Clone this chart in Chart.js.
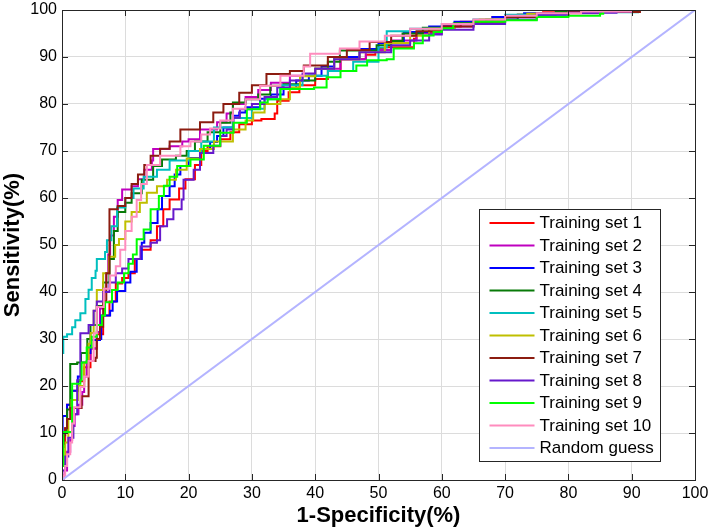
<!DOCTYPE html>
<html>
<head>
<meta charset="utf-8">
<script src="https://cdn.jsdelivr.net/npm/chart.js@4.4.1/dist/chart.umd.min.js"></script>
<style>
  html, body { margin: 0; padding: 0; background: #fff; }
  #wrap { width: 712px; height: 530px; }
</style>
</head>
<body>
<div id="wrap"><canvas id="roc" width="712" height="530"></canvas></div>
<script>
/* ===== ROC curves, 10 training sets ===== */

const axisTicks = [0, 10, 20, 30, 40, 50, 60, 70, 80, 90, 100];
const setLabels = ['Training set 1', 'Training set 2', 'Training set 3', 'Training set 4', 'Training set 5',
  'Training set 6', 'Training set 7', 'Training set 8', 'Training set 9', 'Training set 10', 'Random guess'];
const setColors = ['#ff0000', '#bf00bf', '#0000ff', '#087a08', '#00bfbf',
  '#bfbf00', '#8c1c10', '#6619cc', '#00ff00', '#ff8cbe', '#b4b4ff'];

// [1-specificity, sensitivity] at each step (%)
const set1 = [[0,0],[0,8],[0.5,11],[0.8,16],[1.5,19],[2.5,21],[3.5,24],[4.5,28],[5.5,31],[6.5,35],[7.5,38],[8.5,41.8],
  [9.5,43],[10.5,44],[11.5,47],[12.5,49],[14,51],[15,54],[16,57.6],[17,59.7],[18.5,62],[19.5,64],[21,67],[22,70],
  [23,71],[25,72.5],[26.6,74],[28,75.7],[30,76.5],[31.5,76.8],[33.6,78],[34,80.7],[35.8,82.5],[37.5,84],[40,85.3],
  [42,87],[44,89.5],[48,90.5],[49.5,91.7],[51,92.1],[55.6,93.9],[56,95.3],[60,96.5],[63,97.5],[68,98.5],[72,99],
  [76,99.5],[85,100],[100,100]];
const set2 = [[0,0],[0.3,1],[0.4,2],[0.8,6],[1.3,8.5],[1.6,11.5],[2,14],[2.6,16],[3.2,18.7],[3.5,22],[3.9,25.3],
  [4.5,28],[5.5,31.5],[6,36.5],[6.6,40.7],[7,44],[7.3,48],[7.6,52],[8.2,56],[8.8,59.6],[9.5,61.8],[11,62.5],[12,64],
  [13,66],[14.2,68],[14.4,70.4],[17,71],[19,72],[20,72.5],[21.8,74.6],[24.5,76.1],[26,78],[27,80],[29,81.5],[31,83],
  [33,84.5],[36,86],[40,87.5],[44,89.5],[48,91.5],[52,93.5],[56,95],[60,96.5],[65,97.5],[70,98.5],[75,99.3],
  [85,100],[100,100]];
const set3 = [[0,0],[0,5],[0.1,13.6],[0.8,16],[1.5,19],[2.5,22],[3,25],[4,27],[4.5,29.8],[6,30],[6.2,35],[7.6,36],
  [8,38],[8.7,40.2],[10,42],[10.8,44.3],[11.8,47],[12.6,50.5],[13,52.6],[14,54.7],[15.1,57.6],[15.8,60.4],[17,62.5],
  [17.8,65],[18.7,66.8],[20,68.5],[21.8,70.4],[23.4,71.9],[24.5,73.2],[25.5,75],[27,77.5],[28,78.2],[29,79.3],
  [31.3,81.1],[33,82],[35,83.2],[37,85],[39,86],[41,88],[43,90],[47,91.7],[50,93],[54,95.3],[58,96.5],[62,97.5],
  [68,98.5],[73,99.3],[80,99.6],[88,100],[100,100]];
const set4 = [[0,0],[0,7],[0.3,10],[0.8,15],[1.3,17.6],[1.3,24.7],[2.4,25],[3,27],[4,30],[4.5,33],[5.5,37],[6.5,42],
  [7.5,47],[8.2,53],[8.8,57],[10,59],[11,61],[12.6,63.9],[14.4,66.8],[15.8,68.2],[18,69],[19.7,70],[21,72],[23,74],
  [25,76],[26.6,78.2],[27,80.3],[29,81],[31,82],[32.9,83.9],[35,84.2],[37.6,85],[40,87.5],[42,89],[43.9,91.4],
  [49.7,92.5],[52,93.4],[53.8,95],[57,96.2],[62,97.2],[67,98],[72,99],[78,99.6],[85,100],[100,100]];
const set5 = [[0,0],[0,27],[0.2,30.5],[0.8,31],[1.6,32.5],[2.1,34],[2.9,35.5],[3.7,38.5],[4.2,40.5],[4.7,43],
  [5.3,44.5],[5.5,47],[6.8,48.5],[7.1,51],[7.8,54],[8.7,58],[10,60],[11.3,62],[12.9,64.5],[15,66],[17,68],[20,70],
  [22,72],[24,75],[27,77],[30,79],[32,81],[34.5,84],[38,86],[42,87],[46,89],[50,92],[51.3,95.5],[55,96],[60,97],
  [65,98],[70,99],[80,99.5],[91,100],[100,100]];
const set6 = [[0,0],[0,3],[0.5,8],[1,13],[1.5,17],[2.5,20],[3.5,25],[4.2,29],[4.5,31.3],[5,36],[5.5,40.4],[6.5,44],
  [7.4,47.5],[8.4,50],[9,51.3],[10,55],[11,57],[12.3,59],[13.4,61.1],[15,62.5],[16.6,63.9],[18,66],[19.7,68.4],
  [21.8,70.4],[24,72],[27,74.6],[29,76.5],[30.2,78.2],[32,80],[34.5,81],[36,83.5],[37.6,85.9],[40,87.5],[43,89.5],
  [47,91],[51,93],[55,94.5],[58,96],[62,97],[66,98],[70.3,98.5],[73.5,99.2],[80,99.6],[88,100],[100,100]];
const set7 = [[0,0],[0,7.7],[0.25,9.5],[0.5,11],[0.8,13],[1.3,15.3],[3.1,17.8],[4.2,25.3],[5.3,26],[5.5,30],
  [6,32.6],[6.5,38],[7,44],[7.5,48.2],[7.5,57.6],[8.8,58.3],[10,60],[11,63],[12,65],[13,67],[14,69],[15.5,70.5],
  [17,72],[18.7,74.6],[21.8,76.1],[23.9,78.2],[25.5,80],[28,82.4],[30,84],[32.3,86.4],[36,87],[38.2,88.2],[42,90],
  [45,91.5],[48.6,93.2],[52,94.5],[56,95.5],[60,96.5],[65,97.5],[70,98.5],[75,99.2],[80,99.6],[91.3,100],[100,100]];
const set8 = [[0,0],[0,2],[0.5,5],[1,9],[1.8,14],[2.4,21.2],[2.9,24.8],[2.9,31.2],[4.2,33],[5,36],[5.5,38],[6.5,40],
  [7.5,42],[8.5,44],[9.5,45],[10.5,47],[12.4,49.7],[14,50.5],[15,51],[15.5,54],[16.6,55.5],[17.6,57.6],[18.9,59.7],
  [19.2,63.9],[20.8,66],[21.8,69.6],[23.9,71.1],[25,73.2],[26,74.6],[27.1,77.1],[28.1,78.9],[30,80],[32,81.5],
  [34,83.5],[36,85],[38,86.5],[40,87.5],[43,89.5],[47,91],[52,92.5],[55,93.5],[58,94.8],[60,95.8],[65,97],[70,98],
  [75,99],[80,99.4],[87.6,99.7],[90,100],[100,100]];
const set9 = [[0,0],[0,3],[0.2,10.2],[1.6,12],[1.6,20.5],[2.9,21.2],[3.1,25],[3.9,28.2],[4.7,30.5],[5.5,33],
  [6.3,35],[6.8,37.8],[7.9,40.4],[8.8,42],[9.8,44],[10.5,46],[11.2,48],[11.8,51.2],[12.9,53.3],[14,57.6],[15.3,60.4],
  [16.1,62.6],[17,64.5],[18.2,66.8],[20.3,68.2],[22.4,71.1],[25,73.9],[27.1,76],[29.2,78.9],[31.3,80.3],[32.5,81],
  [34.5,83.2],[39.8,83.5],[41.8,85.7],[44,87],[46.5,88.2],[48.2,89.3],[51.3,89.5],[52.4,91.8],[55.6,92.9],[57,94.6],
  [58.7,95.3],[60,96.1],[61.8,97.1],[65,97.5],[70,97.8],[75,98.5],[80,98.8],[85,99.2],[85.5,100],[100,100]];
const set10 = [[0,0],[0.3,1],[0.5,3],[0.8,5.5],[1.3,8],[1.6,12],[1.9,15.5],[2.9,19.8],[3.5,22],[4.2,25.3],[5,31.2],
  [5.5,36.8],[6.6,40.7],[7.6,43.5],[8.5,45.5],[9.2,49],[10,53],[11,56],[11.8,59.6],[12.5,63],[13.4,67],[15.5,69],
  [18.7,71],[20.3,72],[22,73.5],[23.4,74.8],[25,76.5],[27,79],[29,81],[31.3,83.9],[34.5,86],[38.2,88],[39.2,90.7],
  [43.9,91.8],[47,93.3],[51,94.5],[55,96],[60,97],[65,98],[70,98.8],[75,99.3],[82,99.7],[90,100],[100,100]];
const randomGuess = [[0,0],[100,100]];

const allSets = [set1, set2, set3, set4, set5, set6, set7, set8, set9, set10, randomGuess];

const FONT = 'Arial, "Liberation Sans", sans-serif';

// MATLAB-style box: frame on all four sides with ticks pointing inward
const boxPlugin = {
  id: 'boxPlugin',
  afterDatasetsDraw(chart) {
    const { ctx, chartArea: a, scales: { x, y } } = chart;
    ctx.save();
    ctx.strokeStyle = '#262626';
    ctx.lineWidth = 1;
    ctx.beginPath();
    axisTicks.forEach(t => {
      const px = Math.round(x.getPixelForValue(t)) + 0.5;
      const py = Math.round(y.getPixelForValue(t)) + 0.5;
      ctx.moveTo(px, a.bottom); ctx.lineTo(px, a.bottom - 6);
      ctx.moveTo(px, a.top); ctx.lineTo(px, a.top + 6);
      ctx.moveTo(a.left, py); ctx.lineTo(a.left + 6, py);
      ctx.moveTo(a.right, py); ctx.lineTo(a.right - 6, py);
    });
    ctx.stroke();
    ctx.strokeRect(Math.round(a.left) + 0.5, Math.round(a.top) + 0.5,
      Math.round(a.right - a.left), Math.round(a.bottom - a.top));
    ctx.restore();
  }
};

// legend inside the lower right corner of the axes
const legendPlugin = {
  id: 'insideLegend',
  afterDraw(chart) {
    const { ctx, chartArea: a } = chart;
    const w = 181, h = 252;
    const left = Math.round(a.right - 35 - w) + 0.5;
    const top = Math.round(a.bottom - 19 - h) + 0.5;
    ctx.save();
    ctx.fillStyle = '#fff';
    ctx.fillRect(left, top, w, h);
    ctx.strokeStyle = '#262626';
    ctx.lineWidth = 1;
    ctx.strokeRect(left, top, w, h);
    ctx.font = '17px ' + FONT;
    ctx.textBaseline = 'middle';
    chart.data.datasets.forEach((ds, i) => {
      const yy = top + 13.5 + i * 22.5;
      ctx.strokeStyle = ds.borderColor;
      ctx.lineWidth = 2;
      ctx.beginPath();
      ctx.moveTo(left + 10, yy);
      ctx.lineTo(left + 55, yy);
      ctx.stroke();
      ctx.fillStyle = '#000';
      ctx.fillText(ds.label, left + 60, yy + 0.5);
    });
    ctx.restore();
  }
};

const datasets = allSets.map((pts, i) => ({
  label: setLabels[i],
  data: pts.map(p => ({ x: p[0], y: p[1] })),
  borderColor: setColors[i],
  backgroundColor: setColors[i],
  borderWidth: 2,
  pointRadius: 0,
  stepped: i < 10 ? true : false,
  fill: false,
  order: allSets.length - 1 - i
}));

new Chart(document.getElementById('roc').getContext('2d'), {
  type: 'line',
  data: { datasets },
  options: {
    responsive: false,
    animation: false,
    layout: { padding: { top: 10, right: 17, left: 0, bottom: 0 } },
    plugins: { legend: { display: false }, tooltip: { enabled: false } },
    scales: {
      x: {
        type: 'linear', min: 0, max: 100,
        afterBuildTicks: s => { s.ticks = axisTicks.map(v => ({ value: v })); },
        afterFit: s => { s.height = 50; s.paddingLeft = 0; s.paddingRight = 0; },
        grid: { color: '#dcdcdc', drawTicks: false },
        border: { display: true, color: '#262626' },
        ticks: { color: '#000', padding: 4, maxRotation: 0, font: { family: FONT, size: 16 } },
        title: { display: true, text: '1-Specificity(%)', color: '#000', padding: { top: 0, bottom: 1 },
          font: { family: FONT, size: 22, weight: 'bold' } }
      },
      y: {
        type: 'linear', min: 0, max: 100,
        afterBuildTicks: s => { s.ticks = axisTicks.map(v => ({ value: v })); },
        afterFit: s => { s.width = 62; s.paddingTop = 0; s.paddingBottom = 0; },
        grid: { color: '#dcdcdc', drawTicks: false },
        border: { display: true, color: '#262626' },
        ticks: { color: '#000', padding: 5, font: { family: FONT, size: 16 } },
        title: { display: true, text: 'Sensitivity(%)', color: '#000', padding: { top: 0, bottom: 0 },
          font: { family: FONT, size: 22, weight: 'bold' } }
      }
    }
  },
  plugins: [boxPlugin, legendPlugin]
});
</script>
</body>
</html>
